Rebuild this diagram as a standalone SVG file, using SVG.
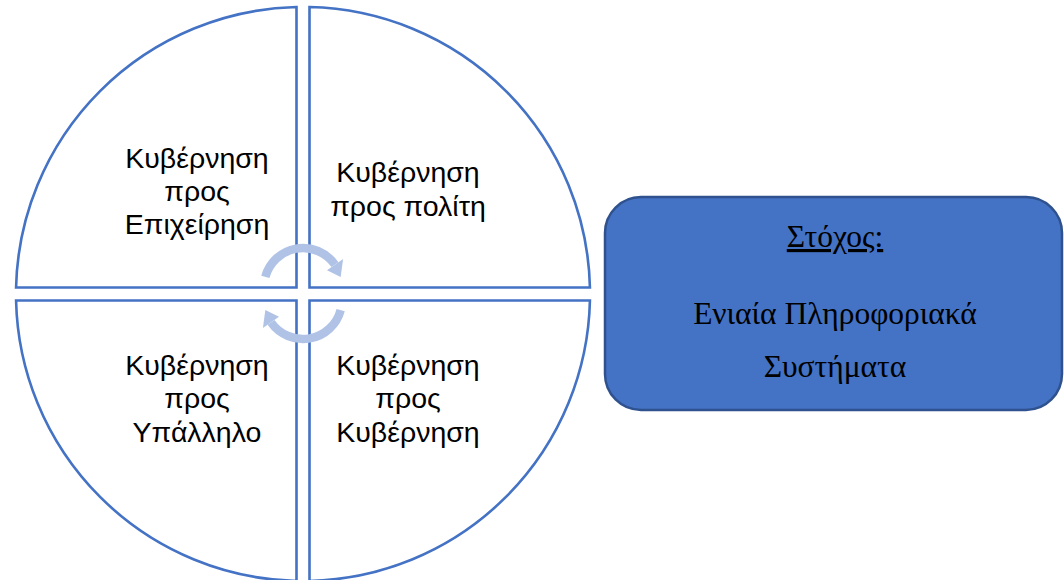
<svg xmlns="http://www.w3.org/2000/svg" width="1064" height="580" viewBox="0 0 1064 580">
  <style>
    .quad { fill: #FFFFFF; stroke: #4472C4; stroke-width: 2.6; stroke-linejoin: miter; }
    .qt { font-family: "Liberation Sans", Arial, sans-serif; font-size: 28.5px; fill: #000000; text-anchor: middle; }
    .goal { fill: #4472C4; stroke: #2F528F; stroke-width: 2.5; }
    .gt { font-family: "Liberation Serif", "Times New Roman", serif; font-size: 31.5px; fill: #000000; text-anchor: middle; }
    .cyc { fill: none; stroke: #B0C3E6; stroke-width: 8.5; }
    .cyh { fill: #B0C3E6; stroke: none; }
  </style>
  <rect width="1064" height="580" fill="#FFFFFF"/>

  <g id="quadrant-top-left">
    <path class="quad" d="M296.5,287.5 V7.07 A287,287 0 0 0 16.07,287.5 Z"/>
    <text class="qt" x="197" y="168">Κυβέρνηση</text>
    <text class="qt" x="197" y="201">προς</text>
    <text class="qt" x="197" y="234">Επιχείρηση</text>
  </g>
  <g id="quadrant-top-right">
    <path class="quad" d="M309.5,287.5 V7.07 A287,287 0 0 1 589.93,287.5 Z"/>
    <text class="qt" x="408" y="182">Κυβέρνηση</text>
    <text class="qt" x="408" y="216">προς πολίτη</text>
  </g>
  <g id="quadrant-bottom-left">
    <path class="quad" d="M296.5,300.5 V580.93 A287,287 0 0 1 16.07,300.5 Z"/>
    <text class="qt" x="197" y="375">Κυβέρνηση</text>
    <text class="qt" x="197" y="408">προς</text>
    <text class="qt" x="197" y="442">Υπάλληλο</text>
  </g>
  <g id="quadrant-bottom-right">
    <path class="quad" d="M309.5,300.5 V580.93 A287,287 0 0 0 589.93,300.5 Z"/>
    <text class="qt" x="408" y="375">Κυβέρνηση</text>
    <text class="qt" x="408" y="408">προς</text>
    <text class="qt" x="408" y="442">Κυβέρνηση</text>
  </g>

  <g id="connectors">
    <path class="cyc" d="M265.33,276.91 A39,39 0 0 1 334.95,264.63"/>
    <polygon class="cyh" points="327.0,270.2 343.1,258.9 340.67,276.91"/>
    <path class="cyc" d="M340.67,310.09 A39,39 0 0 1 271.05,322.37"/>
    <polygon class="cyh" points="279.0,316.8 262.9,328.1 265.33,310.09"/>
  </g>

  <g id="goal">
    <rect class="goal" x="605" y="197" width="457" height="213" rx="36" ry="36"/>
    <text class="gt" x="835" y="247" text-decoration="underline">Στόχος:</text>
    <text class="gt" x="835" y="324">Ενιαία Πληροφοριακά</text>
    <text class="gt" x="835" y="377">Συστήματα</text>
  </g>
</svg>
